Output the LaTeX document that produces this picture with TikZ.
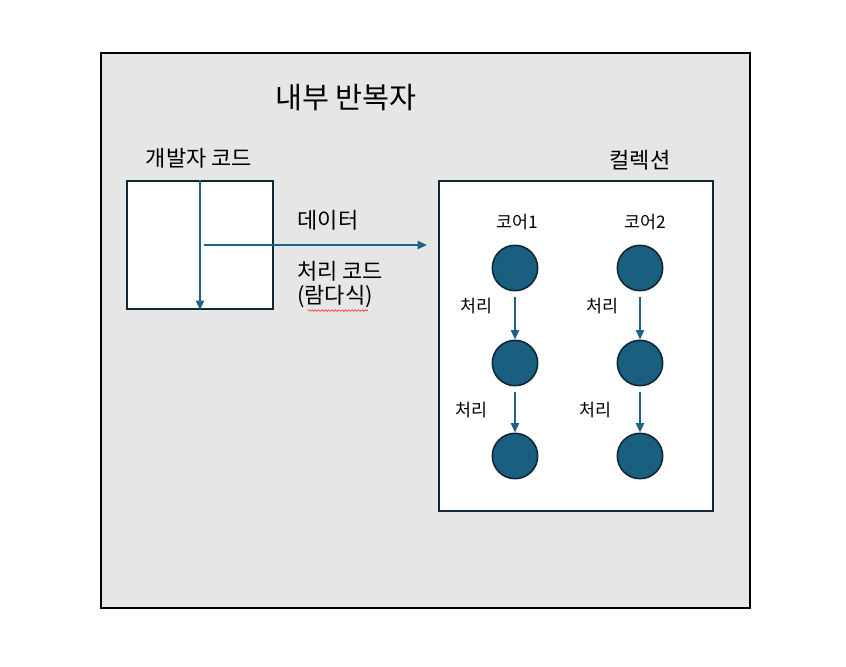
\documentclass[tikz,border=0pt]{standalone}
\usepackage{fontspec}
\setmainfont{Noto Sans CJK KR}
\usetikzlibrary{arrows.meta,decorations.pathmorphing}
\definecolor{bggray}{HTML}{E7E6E6}
\definecolor{coreblue}{HTML}{1A5E80}
\definecolor{linkblue}{HTML}{1F6287}
\definecolor{edgedark}{HTML}{0E2838}

\begin{document}
\begin{tikzpicture}[x=0.75pt, y=-0.75pt,
    every node/.style={font=\fontsize{13}{15}\selectfont, inner sep=0pt},
    biglabel/.style={font=\fontsize{16.5}{20}\selectfont},
    panel/.style={draw=edgedark, fill=white, line width=1.5pt},
    core/.style={circle, draw=edgedark, fill=coreblue, line width=1.2pt, minimum size=34pt},
    flow/.style={linkblue, line width=1.5pt, -{Triangle[length=7pt,width=6pt]}}]
  \useasboundingbox (0,0) rectangle (846,667);
  % background sheet
  \draw[fill=bggray, line width=1.2pt] (101,53) rectangle (750,608);
  \node[font=\fontsize{22}{26}\selectfont] (title) at (346,98) {내부 반복자};

  % developer code
  \node[biglabel] (devlabel) at (199,158) {개발자 코드};
  \node[panel, minimum width=109.5pt, minimum height=96pt] (dev) at (200,245) {};
  \coordinate (dataend) at (427,245);
  \draw[flow] (dev.north) -- (dev.south);
  \draw[flow] ([xshift=3pt]dev.center) -- (dataend);
  \node[biglabel] (data) at (328,220) {데이터};
  \node[biglabel, anchor=west] (code) at (297,271) {처리 코드};
  \node[biglabel, anchor=west] (lambda) at (297,297) {(람다식)};
  \draw[red!80, line width=0.5pt, decorate, decoration={snake, amplitude=0.6pt, segment length=2.5pt}]
    ([xshift=8pt, yshift=-1.5pt]lambda.south west) -- ([xshift=-4pt, yshift=-1.5pt]lambda.south east);

  % collection
  \node[biglabel] (collabel) at (640,160) {컬렉션};
  \node[panel, minimum width=205.5pt, minimum height=247.5pt] (coll) at (576,346) {};
  \node (coreA) at (517,222) {코어1};
  \node (coreB) at (645,222) {코어2};
  \node[core] (a1) at (515,268) {};
  \node[core] (a2) at (515,363) {};
  \node[core] (a3) at (515,456) {};
  \node[core] (b1) at (640,268) {};
  \node[core] (b2) at (640,363) {};
  \node[core] (b3) at (640,456) {};
  \draw[flow] ([yshift=-4pt]a1.south) -- (a2.north);
  \draw[flow] ([yshift=-4pt]a2.south) -- (a3.north);
  \draw[flow] ([yshift=-4pt]b1.south) -- (b2.north);
  \draw[flow] ([yshift=-4pt]b2.south) -- (b3.north);
  \node (stepA1) at (476,306) {처리};
  \node (stepB1) at (602,306) {처리};
  \node (stepA2) at (471,410) {처리};
  \node (stepB2) at (595,410) {처리};
\end{tikzpicture}
\end{document}
